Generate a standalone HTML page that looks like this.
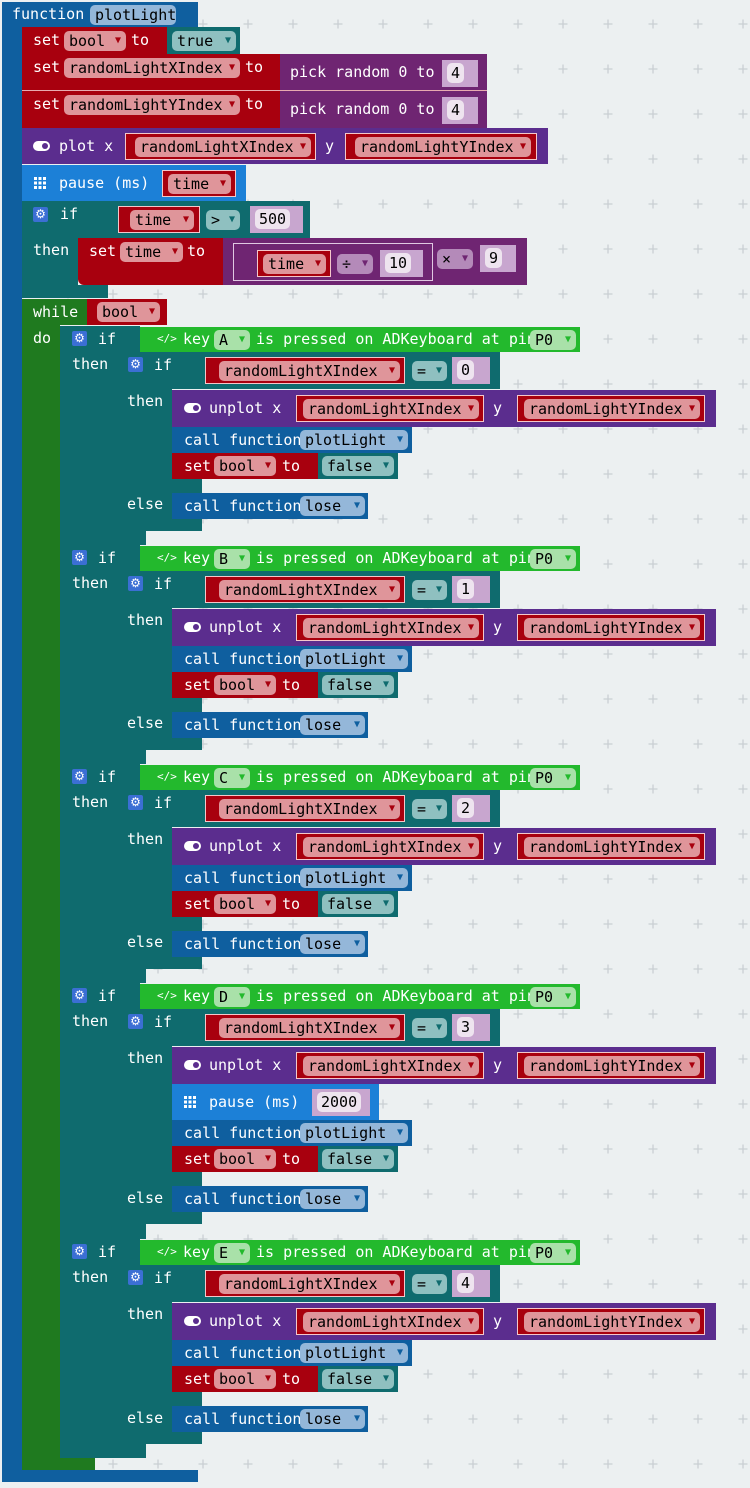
<!DOCTYPE html>
<html><head><meta charset="utf-8"><style>
html,body{margin:0;padding:0}
body{width:750px;height:1488px;background:#ecf0f1;position:relative;overflow:hidden}
.r{position:absolute}
.tx{position:absolute;color:#fff;font:15px/20px "DejaVu Sans Mono","Liberation Mono",monospace;white-space:pre}
.pl{position:absolute;height:20px;border-radius:5px;font:15px/20px "DejaVu Sans Mono","Liberation Mono",monospace;color:#000;white-space:pre;padding-left:5px;box-sizing:border-box}
.pl i{font-style:normal;font-size:10px;position:absolute;right:5px;top:0px}
.R{background:#a8000e}.T{background:#0f6b6e}.P{background:#5b2d8e}.M{background:#6f2572}
.B{background:#0f5f9f}.Q{background:#1c80d7}.G{background:#23b92d}.W{background:#1f7a1f}
.pk{background:#df959a}.pk i{color:#a8000e}
.pt{background:#8fc0c0}.pt i{color:#0f6b6e}
.pb{background:#94b7d9}.pb i{color:#0f5f9f}
.pg{background:#a9e1a9}.pg i{color:#23b92d}
.rb{position:absolute;background:#a8000e;border:1px solid #f4c7ca;box-sizing:border-box;height:27px}
.nm{position:absolute;background:#c8a6cf;height:27px;box-sizing:border-box}
.nm span{position:absolute;left:5px;top:3px;height:20px;background:#eee4ef;border-radius:5px;font:15px/20px "DejaVu Sans Mono",monospace;color:#000;padding:0 4px}
.gr{position:absolute;width:15px;height:15px;background:#3b6fd4;border-radius:2px;color:#fff;font:12px/15px "DejaVu Sans",sans-serif;text-align:center}
.tg{position:absolute;width:17px;height:10px;background:#fff;border-radius:5px}
.tg:after{content:"";position:absolute;right:2px;top:2px;width:6px;height:6px;border-radius:3px;background:#5b2d8e}
.pi{position:absolute;width:12px;height:12px;background:
linear-gradient(90deg,transparent 3px,#1c80d7 3px,#1c80d7 4.5px,transparent 4.5px,transparent 7.5px,#1c80d7 7.5px,#1c80d7 9px,transparent 9px),
linear-gradient(0deg,transparent 3px,#1c80d7 3px,#1c80d7 4.5px,transparent 4.5px,transparent 7.5px,#1c80d7 7.5px,#1c80d7 9px,transparent 9px),#fff}
.kc{position:absolute;color:#fff;font:11px/20px "DejaVu Sans Mono",monospace}
</style></head><body>
<svg class="r" style="left:0;top:0" width="750" height="1488"><defs><pattern id="g" x="0.5" y="1.5" width="45" height="45" patternUnits="userSpaceOnUse"><path d="M18 22.5h9M22.5 18v9" stroke="#c9cfd3" stroke-width="1.3"/></pattern></defs><rect width="750" height="1488" fill="url(#g)"/></svg>

<!-- function -->
<div class="r B" style="left:2px;top:2px;width:196px;height:25px"></div>
<div class="r B" style="left:2px;top:2px;width:20px;height:1480px"></div>
<div class="r B" style="left:2px;top:1470px;width:196px;height:12px"></div>
<div class="tx" style="left:12px;top:4px">function</div>
<div class="pl pb" style="left:90px;top:5px;width:86px">plotLight</div>

<!-- set bool -->
<div class="r R" style="left:22px;top:27px;width:145px;height:27px"></div>
<div class="r T" style="left:167px;top:27px;width:73px;height:27px"></div>
<div class="tx" style="left:33px;top:30px">set</div>
<div class="pl pk" style="left:64px;top:31px;width:62px">bool<i>▼</i></div>
<div class="tx" style="left:131px;top:30px">to</div>
<div class="pl pt" style="left:172px;top:31px;width:64px">true<i>▼</i></div>

<!-- set X / Y -->
<div class="r R" style="left:22px;top:54px;width:258px;height:37px"></div>
<div class="r M" style="left:280px;top:54px;width:207px;height:37px"></div>
<div class="tx" style="left:33px;top:57px">set</div>
<div class="pl pk" style="left:64px;top:58px;width:176px">randomLightXIndex<i>▼</i></div>
<div class="tx" style="left:245px;top:57px">to</div>
<div class="tx" style="left:290px;top:62px">pick random 0 to</div>
<div class="nm" style="left:442px;top:60px;width:36px"><span>4</span></div>
<div class="r" style="left:22px;top:90px;width:465px;height:1px;background:#e8aab0"></div>
<div class="r R" style="left:22px;top:91px;width:258px;height:37px"></div>
<div class="r M" style="left:280px;top:91px;width:207px;height:37px"></div>
<div class="tx" style="left:33px;top:94px">set</div>
<div class="pl pk" style="left:64px;top:95px;width:176px">randomLightYIndex<i>▼</i></div>
<div class="tx" style="left:245px;top:94px">to</div>
<div class="tx" style="left:290px;top:99px">pick random 0 to</div>
<div class="nm" style="left:442px;top:97px;width:36px"><span>4</span></div>

<!-- plot -->
<div class="r P" style="left:22px;top:128px;width:526px;height:36px"></div>
<div class="tg" style="left:33px;top:141px"></div>
<div class="tx" style="left:59px;top:136px">plot x</div>
<div class="rb" style="left:125px;top:133px;width:191px"></div>
<div class="pl pk" style="left:135px;top:137px;width:176px">randomLightXIndex<i>▼</i></div>
<div class="tx" style="left:325px;top:136px">y</div>
<div class="rb" style="left:345px;top:133px;width:192px"></div>
<div class="pl pk" style="left:355px;top:137px;width:176px">randomLightYIndex<i>▼</i></div>

<!-- pause -->
<div class="r Q" style="left:22px;top:165px;width:224px;height:36px"></div>
<div class="pi" style="left:34px;top:177px"></div>
<div class="tx" style="left:59px;top:173px">pause (ms)</div>
<div class="rb" style="left:162px;top:170px;width:74px"></div>
<div class="pl pk" style="left:168px;top:174px;width:63px">time<i>▼</i></div>

<!-- if time -->
<div class="r T" style="left:22px;top:201px;width:288px;height:37px"></div>
<div class="r T" style="left:22px;top:201px;width:56px;height:97px"></div>
<div class="r T" style="left:22px;top:285px;width:86px;height:13px"></div>
<div class="gr" style="left:33px;top:207px">⚙</div>
<div class="tx" style="left:60px;top:204px">if</div>
<div class="rb" style="left:118px;top:206px;width:82px"></div>
<div class="pl pk" style="left:130px;top:210px;width:64px">time<i>▼</i></div>
<div class="pl pt" style="left:206px;top:210px;width:34px">&gt;<i>▼</i></div>
<div class="nm" style="left:250px;top:206px;width:53px"><span>500</span></div>
<div class="tx" style="left:33px;top:240px">then</div>
<div class="r R" style="left:78px;top:238px;width:145px;height:47px;border-radius:0 0 0 6px"></div>
<div class="tx" style="left:89px;top:241px">set</div>
<div class="pl pk" style="left:120px;top:242px;width:63px">time<i>▼</i></div>
<div class="tx" style="left:187px;top:241px">to</div>
<div class="r M" style="left:223px;top:238px;width:304px;height:47px"></div>
<div class="r" style="left:233px;top:243px;width:200px;height:38px;border:1px solid #e0c8e2;box-sizing:border-box"></div>
<div class="rb" style="left:257px;top:250px;width:74px"></div>
<div class="pl pk" style="left:263px;top:254px;width:63px">time<i>▼</i></div>
<div class="pl" style="left:337px;top:254px;width:36px;background:#b48ab9">÷<i style="color:#6f2572">▼</i></div>
<div class="nm" style="left:380px;top:250px;width:43px"><span>10</span></div>
<div class="pl" style="left:437px;top:249px;width:36px;background:#b48ab9">×<i style="color:#6f2572">▼</i></div>
<div class="nm" style="left:480px;top:245px;width:36px"><span>9</span></div>

<!-- while -->
<div class="r W" style="left:22px;top:299px;width:65px;height:26px"></div>
<div class="r W" style="left:22px;top:299px;width:38px;height:1171px"></div>
<div class="r W" style="left:22px;top:1458px;width:73px;height:12px"></div>
<div class="r R" style="left:87px;top:299px;width:80px;height:26px"></div>
<div class="pl pk" style="left:97px;top:302px;width:63px">bool<i>▼</i></div>
<div class="tx" style="left:33px;top:302px">while</div>
<div class="tx" style="left:33px;top:328px">do</div>

<!-- IF A (Y=326) -->
<div class="r T" style="left:60px;top:326px;width:80px;height:26px"></div>
<div class="r T" style="left:60px;top:326px;width:56px;height:219px"></div>
<div class="r T" style="left:60px;top:531px;width:86px;height:14px"></div>
<div class="gr" style="left:72px;top:331px">⚙</div>
<div class="tx" style="left:98px;top:329px">if</div>
<div class="tx" style="left:72px;top:354px">then</div>
<div class="r G" style="left:140px;top:327px;width:440px;height:25px"></div>
<div class="kc" style="left:157px;top:329px">&lt;/&gt;</div>
<div class="tx" style="left:183px;top:329px">key</div>
<div class="pl pg" style="left:214px;top:330px;width:36px">A<i>▼</i></div>
<div class="tx" style="left:256px;top:329px">is pressed on ADKeyboard at pin</div>
<div class="pl pg" style="left:530px;top:330px;width:46px">P0<i>▼</i></div>
<div class="r T" style="left:116px;top:352px;width:384px;height:37px"></div>
<div class="r T" style="left:116px;top:352px;width:56px;height:179px"></div>
<div class="r T" style="left:116px;top:479px;width:86px;height:14px"></div>
<div class="r T" style="left:116px;top:518px;width:86px;height:13px"></div>
<div class="gr" style="left:128px;top:357px">⚙</div>
<div class="tx" style="left:154px;top:355px">if</div>
<div class="rb" style="left:205px;top:357px;width:200px"></div>
<div class="pl pk" style="left:219px;top:361px;width:181px">randomLightXIndex<i>▼</i></div>
<div class="pl pt" style="left:412px;top:361px;width:35px">=<i>▼</i></div>
<div class="nm" style="left:452px;top:357px;width:38px"><span>0</span></div>
<div class="tx" style="left:127px;top:391px">then</div>
<div class="r P" style="left:172px;top:390px;width:544px;height:37px"></div>
<div class="tg" style="left:184px;top:403px"></div>
<div class="tx" style="left:209px;top:398px">unplot x</div>
<div class="rb" style="left:296px;top:395px;width:188px"></div>
<div class="pl pk" style="left:303px;top:399px;width:176px">randomLightXIndex<i>▼</i></div>
<div class="tx" style="left:493px;top:398px">y</div>
<div class="rb" style="left:517px;top:395px;width:188px"></div>
<div class="pl pk" style="left:524px;top:399px;width:176px">randomLightYIndex<i>▼</i></div>
<div class="r B" style="left:172px;top:427px;width:240px;height:26px"></div>
<div class="tx" style="left:184px;top:430px">call function</div>
<div class="pl pb" style="left:300px;top:430px;width:108px">plotLight<i>▼</i></div>
<div class="r R" style="left:172px;top:453px;width:146px;height:26px"></div>
<div class="r T" style="left:318px;top:453px;width:80px;height:26px"></div>
<div class="tx" style="left:184px;top:456px">set</div>
<div class="pl pk" style="left:214px;top:456px;width:62px">bool<i>▼</i></div>
<div class="tx" style="left:282px;top:456px">to</div>
<div class="pl pt" style="left:322px;top:456px;width:72px">false<i>▼</i></div>
<div class="tx" style="left:127px;top:494px">else</div>
<div class="r B" style="left:172px;top:493px;width:196px;height:26px"></div>
<div class="tx" style="left:184px;top:496px">call function</div>
<div class="pl pb" style="left:300px;top:496px;width:65px">lose<i>▼</i></div>

<!-- IF B (Y=545) -->
<div class="r T" style="left:60px;top:545px;width:80px;height:26px"></div>
<div class="r T" style="left:60px;top:545px;width:56px;height:219px"></div>
<div class="r T" style="left:60px;top:750px;width:86px;height:14px"></div>
<div class="gr" style="left:72px;top:550px">⚙</div>
<div class="tx" style="left:98px;top:548px">if</div>
<div class="tx" style="left:72px;top:573px">then</div>
<div class="r G" style="left:140px;top:546px;width:440px;height:25px"></div>
<div class="kc" style="left:157px;top:548px">&lt;/&gt;</div>
<div class="tx" style="left:183px;top:548px">key</div>
<div class="pl pg" style="left:214px;top:549px;width:36px">B<i>▼</i></div>
<div class="tx" style="left:256px;top:548px">is pressed on ADKeyboard at pin</div>
<div class="pl pg" style="left:530px;top:549px;width:46px">P0<i>▼</i></div>
<div class="r T" style="left:116px;top:571px;width:384px;height:37px"></div>
<div class="r T" style="left:116px;top:571px;width:56px;height:179px"></div>
<div class="r T" style="left:116px;top:698px;width:86px;height:14px"></div>
<div class="r T" style="left:116px;top:737px;width:86px;height:13px"></div>
<div class="gr" style="left:128px;top:576px">⚙</div>
<div class="tx" style="left:154px;top:574px">if</div>
<div class="rb" style="left:205px;top:576px;width:200px"></div>
<div class="pl pk" style="left:219px;top:580px;width:181px">randomLightXIndex<i>▼</i></div>
<div class="pl pt" style="left:412px;top:580px;width:35px">=<i>▼</i></div>
<div class="nm" style="left:452px;top:576px;width:38px"><span>1</span></div>
<div class="tx" style="left:127px;top:610px">then</div>
<div class="r P" style="left:172px;top:609px;width:544px;height:37px"></div>
<div class="tg" style="left:184px;top:622px"></div>
<div class="tx" style="left:209px;top:617px">unplot x</div>
<div class="rb" style="left:296px;top:614px;width:188px"></div>
<div class="pl pk" style="left:303px;top:618px;width:176px">randomLightXIndex<i>▼</i></div>
<div class="tx" style="left:493px;top:617px">y</div>
<div class="rb" style="left:517px;top:614px;width:188px"></div>
<div class="pl pk" style="left:524px;top:618px;width:176px">randomLightYIndex<i>▼</i></div>
<div class="r B" style="left:172px;top:646px;width:240px;height:26px"></div>
<div class="tx" style="left:184px;top:649px">call function</div>
<div class="pl pb" style="left:300px;top:649px;width:108px">plotLight<i>▼</i></div>
<div class="r R" style="left:172px;top:672px;width:146px;height:26px"></div>
<div class="r T" style="left:318px;top:672px;width:80px;height:26px"></div>
<div class="tx" style="left:184px;top:675px">set</div>
<div class="pl pk" style="left:214px;top:675px;width:62px">bool<i>▼</i></div>
<div class="tx" style="left:282px;top:675px">to</div>
<div class="pl pt" style="left:322px;top:675px;width:72px">false<i>▼</i></div>
<div class="tx" style="left:127px;top:713px">else</div>
<div class="r B" style="left:172px;top:712px;width:196px;height:26px"></div>
<div class="tx" style="left:184px;top:715px">call function</div>
<div class="pl pb" style="left:300px;top:715px;width:65px">lose<i>▼</i></div>

<!-- IF C (Y=764) -->
<div class="r T" style="left:60px;top:764px;width:80px;height:26px"></div>
<div class="r T" style="left:60px;top:764px;width:56px;height:219px"></div>
<div class="r T" style="left:60px;top:969px;width:86px;height:14px"></div>
<div class="gr" style="left:72px;top:769px">⚙</div>
<div class="tx" style="left:98px;top:767px">if</div>
<div class="tx" style="left:72px;top:792px">then</div>
<div class="r G" style="left:140px;top:765px;width:440px;height:25px"></div>
<div class="kc" style="left:157px;top:767px">&lt;/&gt;</div>
<div class="tx" style="left:183px;top:767px">key</div>
<div class="pl pg" style="left:214px;top:768px;width:36px">C<i>▼</i></div>
<div class="tx" style="left:256px;top:767px">is pressed on ADKeyboard at pin</div>
<div class="pl pg" style="left:530px;top:768px;width:46px">P0<i>▼</i></div>
<div class="r T" style="left:116px;top:790px;width:384px;height:37px"></div>
<div class="r T" style="left:116px;top:790px;width:56px;height:179px"></div>
<div class="r T" style="left:116px;top:917px;width:86px;height:14px"></div>
<div class="r T" style="left:116px;top:956px;width:86px;height:13px"></div>
<div class="gr" style="left:128px;top:795px">⚙</div>
<div class="tx" style="left:154px;top:793px">if</div>
<div class="rb" style="left:205px;top:795px;width:200px"></div>
<div class="pl pk" style="left:219px;top:799px;width:181px">randomLightXIndex<i>▼</i></div>
<div class="pl pt" style="left:412px;top:799px;width:35px">=<i>▼</i></div>
<div class="nm" style="left:452px;top:795px;width:38px"><span>2</span></div>
<div class="tx" style="left:127px;top:829px">then</div>
<div class="r P" style="left:172px;top:828px;width:544px;height:37px"></div>
<div class="tg" style="left:184px;top:841px"></div>
<div class="tx" style="left:209px;top:836px">unplot x</div>
<div class="rb" style="left:296px;top:833px;width:188px"></div>
<div class="pl pk" style="left:303px;top:837px;width:176px">randomLightXIndex<i>▼</i></div>
<div class="tx" style="left:493px;top:836px">y</div>
<div class="rb" style="left:517px;top:833px;width:188px"></div>
<div class="pl pk" style="left:524px;top:837px;width:176px">randomLightYIndex<i>▼</i></div>
<div class="r B" style="left:172px;top:865px;width:240px;height:26px"></div>
<div class="tx" style="left:184px;top:868px">call function</div>
<div class="pl pb" style="left:300px;top:868px;width:108px">plotLight<i>▼</i></div>
<div class="r R" style="left:172px;top:891px;width:146px;height:26px"></div>
<div class="r T" style="left:318px;top:891px;width:80px;height:26px"></div>
<div class="tx" style="left:184px;top:894px">set</div>
<div class="pl pk" style="left:214px;top:894px;width:62px">bool<i>▼</i></div>
<div class="tx" style="left:282px;top:894px">to</div>
<div class="pl pt" style="left:322px;top:894px;width:72px">false<i>▼</i></div>
<div class="tx" style="left:127px;top:932px">else</div>
<div class="r B" style="left:172px;top:931px;width:196px;height:26px"></div>
<div class="tx" style="left:184px;top:934px">call function</div>
<div class="pl pb" style="left:300px;top:934px;width:65px">lose<i>▼</i></div>

<!-- IF D (Y=983, with pause) -->
<div class="r T" style="left:60px;top:983px;width:80px;height:26px"></div>
<div class="r T" style="left:60px;top:983px;width:56px;height:256px"></div>
<div class="r T" style="left:60px;top:1224px;width:86px;height:15px"></div>
<div class="gr" style="left:72px;top:988px">⚙</div>
<div class="tx" style="left:98px;top:986px">if</div>
<div class="tx" style="left:72px;top:1011px">then</div>
<div class="r G" style="left:140px;top:984px;width:440px;height:25px"></div>
<div class="kc" style="left:157px;top:986px">&lt;/&gt;</div>
<div class="tx" style="left:183px;top:986px">key</div>
<div class="pl pg" style="left:214px;top:987px;width:36px">D<i>▼</i></div>
<div class="tx" style="left:256px;top:986px">is pressed on ADKeyboard at pin</div>
<div class="pl pg" style="left:530px;top:987px;width:46px">P0<i>▼</i></div>
<div class="r T" style="left:116px;top:1009px;width:384px;height:37px"></div>
<div class="r T" style="left:116px;top:1009px;width:56px;height:215px"></div>
<div class="r T" style="left:116px;top:1172px;width:86px;height:14px"></div>
<div class="r T" style="left:116px;top:1211px;width:86px;height:13px"></div>
<div class="gr" style="left:128px;top:1014px">⚙</div>
<div class="tx" style="left:154px;top:1012px">if</div>
<div class="rb" style="left:205px;top:1014px;width:200px"></div>
<div class="pl pk" style="left:219px;top:1018px;width:181px">randomLightXIndex<i>▼</i></div>
<div class="pl pt" style="left:412px;top:1018px;width:35px">=<i>▼</i></div>
<div class="nm" style="left:452px;top:1014px;width:38px"><span>3</span></div>
<div class="tx" style="left:127px;top:1048px">then</div>
<div class="r P" style="left:172px;top:1047px;width:544px;height:37px"></div>
<div class="tg" style="left:184px;top:1060px"></div>
<div class="tx" style="left:209px;top:1055px">unplot x</div>
<div class="rb" style="left:296px;top:1052px;width:188px"></div>
<div class="pl pk" style="left:303px;top:1056px;width:176px">randomLightXIndex<i>▼</i></div>
<div class="tx" style="left:493px;top:1055px">y</div>
<div class="rb" style="left:517px;top:1052px;width:188px"></div>
<div class="pl pk" style="left:524px;top:1056px;width:176px">randomLightYIndex<i>▼</i></div>
<div class="r Q" style="left:172px;top:1084px;width:207px;height:36px"></div>
<div class="pi" style="left:184px;top:1096px"></div>
<div class="tx" style="left:209px;top:1092px">pause (ms)</div>
<div class="nm" style="left:312px;top:1089px;width:58px"><span>2000</span></div>
<div class="r B" style="left:172px;top:1120px;width:240px;height:26px"></div>
<div class="tx" style="left:184px;top:1123px">call function</div>
<div class="pl pb" style="left:300px;top:1123px;width:108px">plotLight<i>▼</i></div>
<div class="r R" style="left:172px;top:1146px;width:146px;height:26px"></div>
<div class="r T" style="left:318px;top:1146px;width:80px;height:26px"></div>
<div class="tx" style="left:184px;top:1149px">set</div>
<div class="pl pk" style="left:214px;top:1149px;width:62px">bool<i>▼</i></div>
<div class="tx" style="left:282px;top:1149px">to</div>
<div class="pl pt" style="left:322px;top:1149px;width:72px">false<i>▼</i></div>
<div class="tx" style="left:127px;top:1188px">else</div>
<div class="r B" style="left:172px;top:1186px;width:196px;height:26px"></div>
<div class="tx" style="left:184px;top:1189px">call function</div>
<div class="pl pb" style="left:300px;top:1189px;width:65px">lose<i>▼</i></div>

<!-- IF E (Y=1239) -->
<div class="r T" style="left:60px;top:1239px;width:80px;height:26px"></div>
<div class="r T" style="left:60px;top:1239px;width:56px;height:219px"></div>
<div class="r T" style="left:60px;top:1444px;width:86px;height:14px"></div>
<div class="gr" style="left:72px;top:1244px">⚙</div>
<div class="tx" style="left:98px;top:1242px">if</div>
<div class="tx" style="left:72px;top:1267px">then</div>
<div class="r G" style="left:140px;top:1240px;width:440px;height:25px"></div>
<div class="kc" style="left:157px;top:1242px">&lt;/&gt;</div>
<div class="tx" style="left:183px;top:1242px">key</div>
<div class="pl pg" style="left:214px;top:1243px;width:36px">E<i>▼</i></div>
<div class="tx" style="left:256px;top:1242px">is pressed on ADKeyboard at pin</div>
<div class="pl pg" style="left:530px;top:1243px;width:46px">P0<i>▼</i></div>
<div class="r T" style="left:116px;top:1265px;width:384px;height:37px"></div>
<div class="r T" style="left:116px;top:1265px;width:56px;height:179px"></div>
<div class="r T" style="left:116px;top:1392px;width:86px;height:14px"></div>
<div class="r T" style="left:116px;top:1431px;width:86px;height:13px"></div>
<div class="gr" style="left:128px;top:1270px">⚙</div>
<div class="tx" style="left:154px;top:1268px">if</div>
<div class="rb" style="left:205px;top:1270px;width:200px"></div>
<div class="pl pk" style="left:219px;top:1274px;width:181px">randomLightXIndex<i>▼</i></div>
<div class="pl pt" style="left:412px;top:1274px;width:35px">=<i>▼</i></div>
<div class="nm" style="left:452px;top:1270px;width:38px"><span>4</span></div>
<div class="tx" style="left:127px;top:1304px">then</div>
<div class="r P" style="left:172px;top:1303px;width:544px;height:37px"></div>
<div class="tg" style="left:184px;top:1316px"></div>
<div class="tx" style="left:209px;top:1311px">unplot x</div>
<div class="rb" style="left:296px;top:1308px;width:188px"></div>
<div class="pl pk" style="left:303px;top:1312px;width:176px">randomLightXIndex<i>▼</i></div>
<div class="tx" style="left:493px;top:1311px">y</div>
<div class="rb" style="left:517px;top:1308px;width:188px"></div>
<div class="pl pk" style="left:524px;top:1312px;width:176px">randomLightYIndex<i>▼</i></div>
<div class="r B" style="left:172px;top:1340px;width:240px;height:26px"></div>
<div class="tx" style="left:184px;top:1343px">call function</div>
<div class="pl pb" style="left:300px;top:1343px;width:108px">plotLight<i>▼</i></div>
<div class="r R" style="left:172px;top:1366px;width:146px;height:26px"></div>
<div class="r T" style="left:318px;top:1366px;width:80px;height:26px"></div>
<div class="tx" style="left:184px;top:1369px">set</div>
<div class="pl pk" style="left:214px;top:1369px;width:62px">bool<i>▼</i></div>
<div class="tx" style="left:282px;top:1369px">to</div>
<div class="pl pt" style="left:322px;top:1369px;width:72px">false<i>▼</i></div>
<div class="tx" style="left:127px;top:1408px">else</div>
<div class="r B" style="left:172px;top:1406px;width:196px;height:26px"></div>
<div class="tx" style="left:184px;top:1409px">call function</div>
<div class="pl pb" style="left:300px;top:1409px;width:65px">lose<i>▼</i></div>
</body></html>
